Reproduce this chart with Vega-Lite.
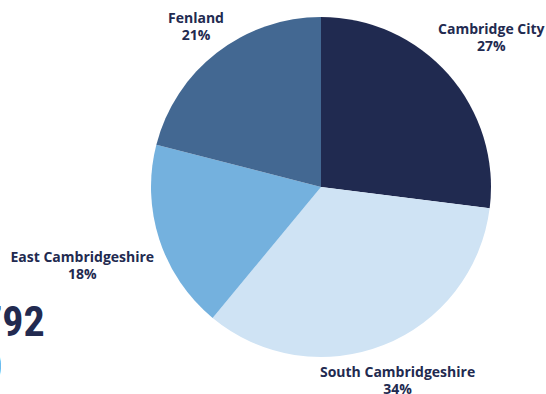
{
  "$schema": "https://vega.github.io/schema/vega-lite/v6.json",
  "width": 450,
  "height": 374,
  "autosize": "none",
  "padding": {"left": 96, "top": 0, "right": 0, "bottom": 20},
  "background": "white",
  "config": {"view": {"stroke": null}},
  "title": {
    "text": ["792", "0"],
    "anchor": "start",
    "frame": "group",
    "orient": "top",
    "align": "left",
    "baseline": "top",
    "offset": 0,
    "dx": -115,
    "dy": 390,
    "font": "Roboto Condensed, DejaVu Sans Condensed, Liberation Sans Narrow, Roboto",
    "fontWeight": "bold",
    "fontSize": 42,
    "lineHeight": 45,
    "color": "#222a50"
  },
  "data": {
    "values": [
      {"idx": 1, "category": "Cambridge City", "pct": 27},
      {"idx": 2, "category": "South Cambridgeshire", "pct": 34},
      {"idx": 3, "category": "East Cambridgeshire", "pct": 18},
      {"idx": 4, "category": "Fenland", "pct": 21}
    ]
  },
  "transform": [
    {"calculate": "datum.category + '\\n' + datum.pct + '%'", "as": "label"}
  ],
  "encoding": {
    "theta": {"field": "pct", "type": "quantitative", "stack": true},
    "order": {"field": "idx", "type": "quantitative"},
    "detail": {"field": "category", "type": "nominal"}
  },
  "layer": [
    {
      "mark": {"type": "arc", "outerRadius": 170},
      "encoding": {
        "color": {
          "field": "category",
          "type": "nominal",
          "scale": {
            "domain": ["Cambridge City", "South Cambridgeshire", "East Cambridgeshire", "Fenland"],
            "range": ["#202a50", "#cfe3f4", "#74b1de", "#436892"]
          },
          "legend": null
        }
      }
    },
    {
      "mark": {
        "type": "text",
        "radius": {"expr": "datum.category === 'East Cambridgeshire' ? 251 : datum.category === 'Cambridge City' ? 227 : datum.category === 'Fenland' ? 204 : 208"},
        "font": "Open Sans",
        "fontWeight": "bold",
        "fontSize": 14,
        "lineBreak": "\n",
        "lineHeight": 17,
        "align": "center",
        "baseline": "middle",
        "dy": -7,
        "color": "#222a50"
      },
      "encoding": {
        "text": {"field": "label", "type": "nominal"}
      }
    }
  ]
}
